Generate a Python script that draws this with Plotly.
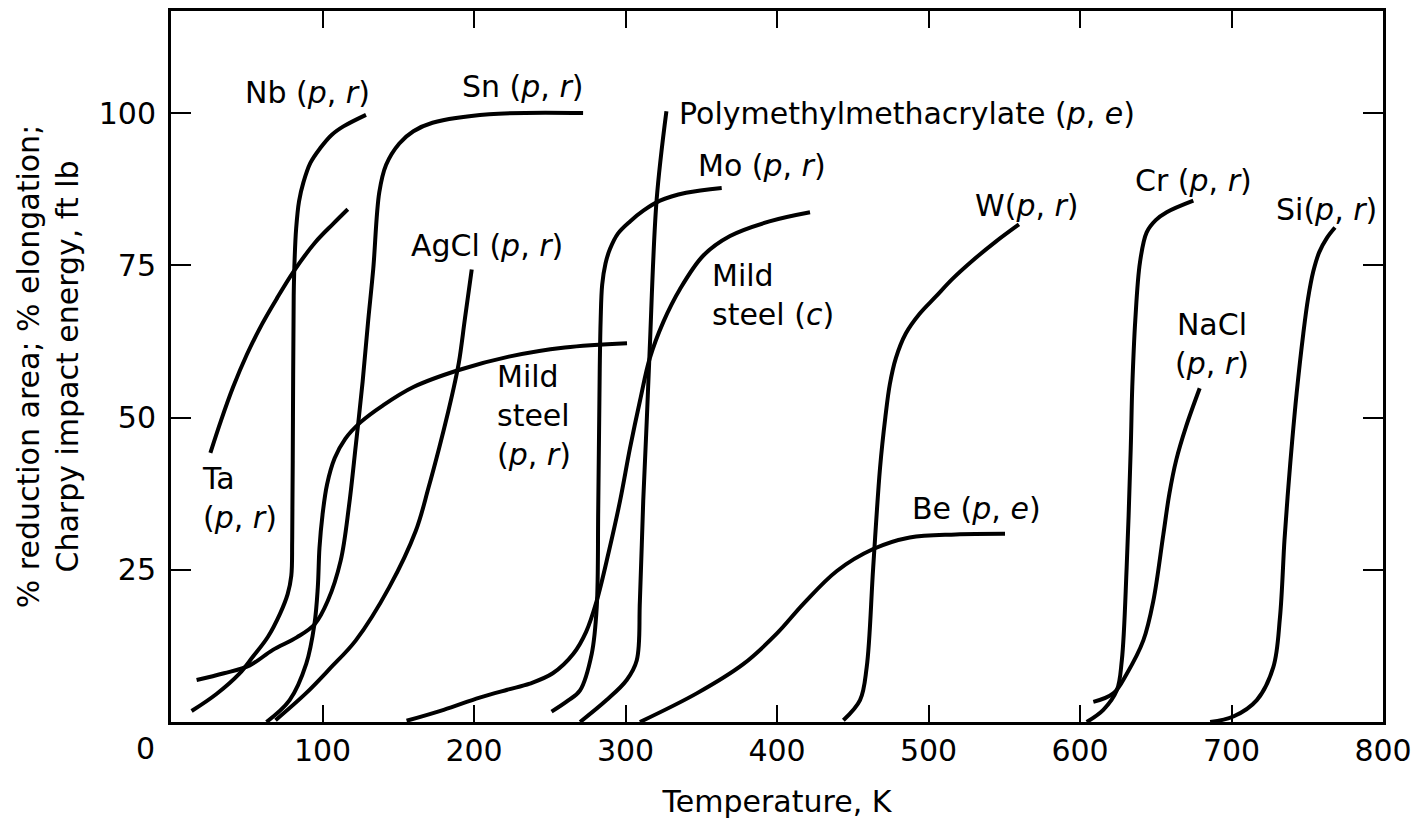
import plotly.graph_objects as go

# ---- data (Temperature K, % / ft lb) ----
ta_x = [26, 33, 41, 50, 60, 70, 81, 95, 107, 116.7]
ta_y = [44.2, 49.5, 55.0, 60.3, 65.3, 69.6, 74.0, 78.7, 81.8, 84.2]

nb_x = [13.6, 30, 45, 54, 64, 72, 77, 79.4, 80, 80.5, 81, 81.6, 82.6, 84.5, 87.4, 92, 98.4, 106, 113.8, 128.7]
nb_y = [1.8, 4.6, 7.9, 10.7, 14, 17.8, 21, 24, 30, 50, 70, 76, 81, 85.5, 88.6, 91.8, 94.2, 96.4, 97.8, 99.7]

sn_x = [16.9, 35, 52, 67, 83, 95, 103.5, 112, 117.5, 122, 126.5, 130, 133.5, 137.5, 142, 150.7, 160, 172.6, 210, 272]
sn_y = [6.9, 8.0, 9.3, 11.8, 13.9, 16.1, 19.9, 26.5, 35.5, 45.5, 55.9, 65.5, 74.4, 87.0, 91.5, 95.0, 97.0, 98.4, 99.8, 100]

msp_x = [63, 78.3, 89.3, 94.7, 96.9, 98, 100, 103, 108, 115, 125, 140, 160, 190, 223, 260, 301]
msp_y = [0, 3.6, 9.6, 16.1, 22.1, 28.6, 34.0, 39.0, 43.3, 46.5, 49.2, 52.0, 55.0, 57.8, 60.0, 61.5, 62.2]

agcl_x = [69, 89, 105, 122, 144, 161.6, 170, 177, 183, 186, 190, 194, 198.5]
agcl_y = [0.3, 4.7, 8.8, 13.4, 22.1, 31.4, 38.5, 45.0, 51.0, 54.2, 59.0, 66.2, 74.3]

msc_x = [155.5, 180, 203.7, 222, 236.8, 252, 265.6, 274, 281, 289, 296.4, 303, 309.6, 316, 325, 336, 351.4, 369, 395, 421.8]
msc_y = [0.2, 2.0, 4.0, 5.3, 6.3, 8.0, 11.2, 14.8, 19.9, 28.0, 36.3, 45.0, 52.8, 59.7, 65.7, 71.1, 76.6, 79.8, 82.2, 83.7]

mo_x = [251.2, 262, 270, 277.7, 281, 282, 283, 283.6, 284.6, 286.8, 289.8, 295, 303, 312, 322.8, 340, 363.5]
mo_y = [1.7, 3.5, 5.2, 11.2, 18.8, 35, 58, 66, 71.8, 75.3, 77.7, 80.2, 82.2, 84.0, 85.6, 86.9, 87.7]

pmma_x = [270, 287.5, 300.8, 307.4, 309.5, 311.7, 314, 316, 320.5, 327]
pmma_y = [0, 3.6, 6.9, 10.1, 19.9, 36.3, 49.3, 61.3, 85.6, 100.3]

be_x = [309.5, 347, 377.7, 399.8, 417.4, 439.5, 463.5, 487.6, 518, 550.5]
be_y = [0, 4.7, 9.5, 14.5, 19.4, 24.8, 28.4, 30.3, 30.8, 30.9]

w_x = [443.8, 454.8, 459.2, 463.5, 468, 471.5, 474.5, 478.5, 485, 494, 504.6, 516, 528.8, 544, 559.7]
w_y = [0.3, 3.6, 9, 25.4, 41.7, 50.0, 55.5, 59.8, 63.8, 67.0, 69.8, 72.8, 75.7, 78.8, 81.7]

cr_x = [604.4, 615.4, 624.3, 627.6, 630.8, 633.5, 634.5, 636.5, 639.6, 644, 650, 657.2, 674.8]
cr_y = [0, 2, 5.2, 10.1, 25.4, 45, 55, 66, 75.5, 80.4, 82.4, 83.7, 85.6]

nacl_x = [608.8, 622, 630.8, 641.8, 648.4, 655, 659, 663.5, 670, 679]
nacl_y = [3.3, 4.7, 7.9, 13.4, 19.9, 30.8, 37.5, 43.0, 48.5, 54.8]

si_x = [685.9, 701.2, 716.7, 727.6, 732, 735, 737.5, 740, 743, 747.4, 750.5, 754, 758, 763, 768.3]
si_y = [0, 0.9, 3.6, 9, 17.2, 30, 38.5, 46, 54, 63.8, 69.5, 74.0, 77.2, 79.5, 81.2]

curves = [
    (ta_x, ta_y), (nb_x, nb_y), (sn_x, sn_y), (msp_x, msp_y), (agcl_x, agcl_y),
    (msc_x, msc_y), (mo_x, mo_y), (pmma_x, pmma_y), (be_x, be_y), (w_x, w_y),
    (cr_x, cr_y), (nacl_x, nacl_y), (si_x, si_y),
]

# labels: text, x, y, xanchor
label_text = [
    "Nb (<i>p</i>, <i>r</i>)",
    "Sn (<i>p</i>, <i>r</i>)",
    "Polymethylmethacrylate (<i>p</i>, <i>e</i>)",
    "Mo (<i>p</i>, <i>r</i>)",
    "AgCl (<i>p</i>, <i>r</i>)",
    "Mild<br>steel (<i>c</i>)",
    "Mild<br>steel<br>(<i>p</i>, <i>r</i>)",
    "Ta<br>(<i>p</i>, <i>r</i>)",
    "W(<i>p</i>, <i>r</i>)",
    "Cr (<i>p</i>, <i>r</i>)",
    "Si(<i>p</i>, <i>r</i>)",
    "NaCl<br>(<i>p</i>, <i>r</i>)",
    "Be (<i>p</i>, <i>e</i>)",
]
label_x = [90, 232, 334, 390, 208.6, 355.8, 213.9, 19.1, 565, 674.6, 762.4, 687, 532]
label_y = [103.3, 104.4, 100, 91.3, 78.3, 70.1, 50.3, 36.8, 84.8, 88.9, 84.2, 62.1, 35]
label_anchor = ["center", "center", "left", "center", "center", "left", "left", "left",
                "center", "center", "center", "center", "center"]

x_ticks = [100, 200, 300, 400, 500, 600, 700, 800]
y_ticks = [25, 50, 75, 100]

FONT = "DejaVu Sans"

fig = go.Figure()
for cx, cy in curves:
    fig.add_trace(go.Scatter(
        x=cx, y=cy, mode="lines",
        line=dict(color="black", width=4, shape="spline", smoothing=1.0),
        hoverinfo="skip", showlegend=False,
    ))

for t, x, y, a in zip(label_text, label_x, label_y, label_anchor):
    fig.add_annotation(x=x, y=y, text=t, showarrow=False, xanchor=a, yanchor="middle",
                       align=a,
                       font=dict(family=FONT, size=30, color="black"))

# origin label
fig.add_annotation(x=0, y=0, xref="x", yref="y", text="0", showarrow=False,
                   xshift=-26, yshift=-26, xanchor="center", yanchor="middle",
                   font=dict(family=FONT, size=30, color="black"))

fig.update_layout(
    width=1422, height=823, autosize=False,
    margin=dict(l=171, r=39, t=8, b=101),
    paper_bgcolor="white", plot_bgcolor="white",
    font=dict(family=FONT, size=30, color="black"),
    xaxis=dict(
        range=[0, 800], tickvals=x_ticks, ticktext=[str(v) for v in x_ticks],
        ticks="inside", ticklen=17, tickwidth=2, tickcolor="black",
        showline=True, linewidth=3, linecolor="black", mirror="ticks",
        showgrid=False, zeroline=False,
        tickfont=dict(family=FONT, size=30, color="black"),
        title=dict(text="Temperature, K", font=dict(family=FONT, size=30), standoff=24),
    ),
    yaxis=dict(
        range=[0, 116.75], tickvals=y_ticks, ticktext=[str(v) for v in y_ticks],
        ticks="inside", ticklen=20, tickwidth=2, tickcolor="black",
        showline=True, linewidth=3, linecolor="black", mirror="ticks",
        showgrid=False, zeroline=False, ticklabelstandoff=6,
        tickfont=dict(family=FONT, size=30, color="black"),
        title=dict(text="% reduction area; % elongation;<br>Charpy impact energy, ft lb",
                   font=dict(family=FONT, size=30), standoff=12),
    ),
)

fig.write_html("out.html")
